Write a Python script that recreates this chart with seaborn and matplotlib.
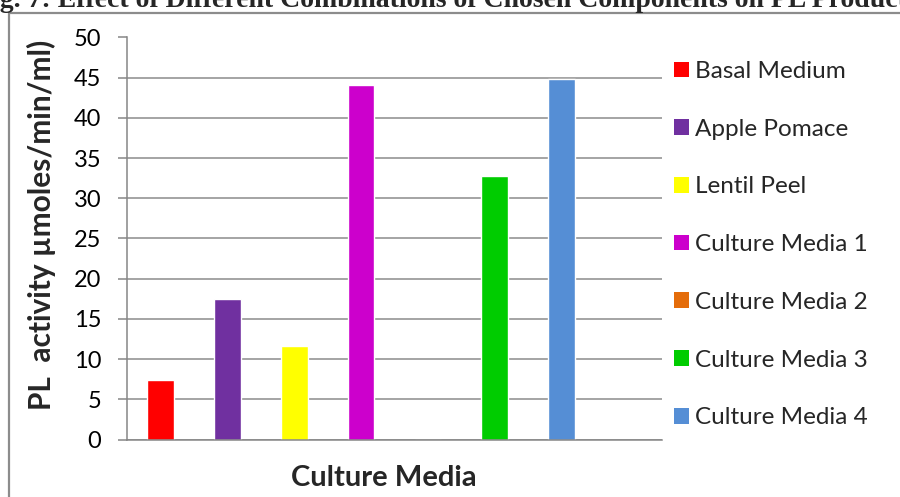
import matplotlib
matplotlib.use("Agg")
import matplotlib.pyplot as plt
import seaborn as sns
import pandas as pd
from matplotlib.patches import Patch, Rectangle

categories = ["Basal Medium", "Apple Pomace", "Lentil Peel", "Culture Media 1",
              "Culture Media 2", "Culture Media 3", "Culture Media 4"]
values = [7.4, 17.5, 11.6, 44.1, 0.0, 32.8, 44.8]
colors = ["#FF0000", "#7030A0", "#FFFF00", "#CC00CC", "#E46C0A", "#00CC00", "#558ED5"]
yticks = [0, 5, 10, 15, 20, 25, 30, 35, 40, 45, 50]
title_hidden = "Fi"
title = "Fig. 7: Effect of Different Combinations of Chosen Components on PL Production"
ylabel = "PL  activity µmoles/min/ml)"
xlabel = "Culture Media"

sns.set_theme(style="white")
plt.rcParams["font.family"] = ["Lato", "DejaVu Sans"]

df = pd.DataFrame({"cat": categories, "val": values})

W, H = 900, 497
fig = plt.figure(figsize=(9, 4.97), dpi=100)
ax = fig.add_axes([127 / W, 1 - 439.5 / H, (662 - 127) / W, (439.5 - 37.5) / H])

sns.barplot(data=df, x="cat", y="val", hue="cat", palette=colors, order=categories,
            hue_order=categories, dodge=False, width=0.40, legend=False, ax=ax,
            saturation=1)

ax.set_xlim(-0.5, 7.5)
ax.set_ylim(0, 50)
ax.set_yticks(yticks)
ax.set_xticks([])
ax.yaxis.grid(True, color="#8C8C8C", linewidth=1.1)
ax.set_axisbelow(True)
for s in ["top", "right"]:
    ax.spines[s].set_visible(False)
for s in ["left", "bottom"]:
    ax.spines[s].set_color("#868686")
    ax.spines[s].set_linewidth(1.1)
ax.tick_params(axis="y", left=True, length=6.5, width=1.1, color="#868686",
               labelsize=17, pad=12, labelcolor="black")
ax.set_xlabel("")
ax.set_ylabel("")

fig.text(41 / W, 1 - 225 / H, ylabel, rotation=90, ha="center", va="center",
         fontsize=21.5, fontweight="bold")
fig.text(383.5 / W, 1 - 478 / H, xlabel, ha="center", va="center",
         fontsize=21, fontweight="bold")

handles = [Patch(facecolor=c, edgecolor="none", label=l) for c, l in zip(colors, categories)]
leg = fig.legend(handles=handles, loc="upper left", bbox_to_anchor=(674 / W, 1 - 61 / H),
                 frameon=False, fontsize=17.5, handlelength=0.62, handleheight=0.62,
                 handletextpad=0.25, labelspacing=1.51, borderaxespad=0, borderpad=0)

# chart border (clipped at right/bottom edges)
fig.patches.append(Rectangle((9 / W, -0.1), 1.2, 1 - 12.5 / H + 0.1,
                             transform=fig.transFigure, fill=False,
                             edgecolor="#8C8C8C", linewidth=1.6))

# title, clipped at the top and sides like the reference
tfont = dict(fontsize=20, fontweight="bold", family=["Liberation Serif", "DejaVu Serif"])
renderer = fig.canvas.get_renderer()
probe = fig.text(0, 0, title_hidden, **tfont)
pw = probe.get_window_extent(renderer).width
probe.remove()
fig.text((-pw) / W, 1 - 7 / H, title, ha="left", va="baseline", **tfont)

fig.savefig("out.png", dpi=100)
